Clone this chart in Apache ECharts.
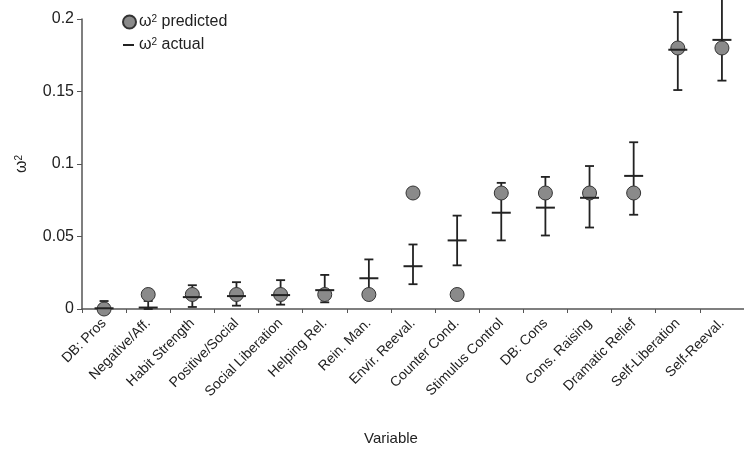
<!DOCTYPE html>
<html>
<head>
<meta charset="utf-8">
<script src="https://cdn.jsdelivr.net/npm/echarts@6/dist/echarts.min.js"></script>
<style>
  html, body { margin: 0; padding: 0; background: #fff; }
  #omegaChart { width: 744px; height: 451px; }
</style>
</head>
<body>
<div id="omegaChart"></div>
<script>
// categories (x axis)
var categories = ['DB: Pros', 'Negative/Aff.', 'Habit Strength', 'Positive/Social', 'Social Liberation',
  'Helping Rel.', 'Rein. Man.', 'Envir. Reeval.', 'Counter Cond.', 'Stimulus Control',
  'DB: Cons', 'Cons. Raising', 'Dramatic Relief', 'Self-Liberation', 'Self-Reeval.'];
// predicted omega^2 (circles)
var predicted = [0, 0.01, 0.01, 0.01, 0.01, 0.01, 0.01, 0.08, 0.01, 0.08, 0.08, 0.08, 0.08, 0.18, 0.18];
// actual omega^2 (dash) and interval ends
var actual = [0.0005, 0.001, 0.0082, 0.0089, 0.0096, 0.013, 0.0212, 0.0295, 0.0473, 0.0664, 0.0699, 0.0767, 0.0918, 0.1788, 0.1856];
var lower = [0, 0, 0.0014, 0.0023, 0.003, 0.0046, 0.008, 0.0171, 0.0301, 0.0473, 0.0507, 0.0562, 0.065, 0.151, 0.1575];
var upper = [0.0055, 0.0055, 0.0164, 0.0185, 0.0199, 0.0235, 0.0342, 0.0445, 0.0644, 0.087, 0.0911, 0.0986, 0.115, 0.2048, 0.214];
// y tick values
var yTicks = [0, 0.05, 0.1, 0.15, 0.2];

var FONT = "'Liberation Sans', Arial, sans-serif";
var INK = '#222';

// rich text for the omega with superscript
var omegaRich = {
  w: { fontSize: 16, fontFamily: FONT, color: INK },
  s: { fontSize: 10, fontFamily: FONT, color: INK, verticalAlign: 'top', padding: [0, 0, 6, 0] }
};

var whiskerData = categories.map(function (c, i) { return [i, lower[i], upper[i]]; });
var meanData = categories.map(function (c, i) { return [i, actual[i]]; });

var chartDom = document.getElementById('omegaChart');
var myChart = echarts.init(chartDom);
var option = {
  animation: false,
  textStyle: { fontFamily: FONT },
  grid: { left: 82, top: 19, width: 670, bottom: 140 },
  legend: [
    {
      data: ['predicted'],
      left: 117, top: 9,
      icon: 'circle', itemWidth: 13, itemHeight: 13, itemGap: 6,
      formatter: function () { return '{w|ω}{s|2}{w| predicted}'; },
      textStyle: { rich: omegaRich, padding: [0, 0, 0, -2] }
    },
    {
      data: ['actual'],
      left: 118, top: 32,
      icon: 'rect', itemWidth: 11, itemHeight: 2,
      formatter: function () { return '{w|ω}{s|2}{w| actual}'; },
      textStyle: { rich: omegaRich }
    }
  ],
  xAxis: {
    type: 'category',
    data: categories,
    name: 'Variable',
    nameLocation: 'middle',
    nameGap: 122,
    nameTextStyle: { fontSize: 15, color: INK, padding: [0, 44, 0, 0] },
    axisLine: { lineStyle: { color: '#555', width: 1.5 } },
    axisTick: { show: true, length: 4, lineStyle: { color: '#555' } },
    axisLabel: { interval: 0, rotate: 45, fontSize: 14, color: INK, margin: 12 }
  },
  yAxis: {
    type: 'value',
    min: 0, max: 0.2, interval: 0.05,
    name: '{w|ω}{s|2}',
    nameLocation: 'middle',
    nameGap: 52,
    nameRotate: 90,
    nameTextStyle: { rich: omegaRich },
    splitLine: { show: false },
    axisLine: { show: true, lineStyle: { color: '#555', width: 1.5 } },
    axisTick: { show: true, length: 5, lineStyle: { color: '#555' } },
    axisLabel: {
      fontSize: 16, color: INK, margin: 8,
      formatter: function (v) {
        for (var k = 0; k < yTicks.length; k++) {
          if (Math.abs(yTicks[k] - v) < 1e-9) return String(yTicks[k]);
        }
        return '';
      }
    }
  },
  series: [
    {
      // interval whiskers (under the circles)
      name: 'interval',
      type: 'custom',
      z: 1,
      clip: false,
      data: whiskerData,
      renderItem: function (params, api) {
        var x = api.coord([api.value(0), 0])[0];
        var lo = api.coord([api.value(0), api.value(1)])[1];
        var hi = api.coord([api.value(0), api.value(2)])[1];
        var cap = 4.5;
        var st = { stroke: INK, lineWidth: 1.8 };
        return {
          type: 'group',
          children: [
            { type: 'line', shape: { x1: x, y1: lo, x2: x, y2: hi }, style: st },
            { type: 'line', shape: { x1: x - cap, y1: hi, x2: x + cap, y2: hi }, style: st },
            { type: 'line', shape: { x1: x - cap, y1: lo, x2: x + cap, y2: lo }, style: st }
          ]
        };
      }
    },
    {
      name: 'predicted',
      type: 'scatter',
      z: 2,
      symbol: 'circle',
      symbolSize: 14,
      data: predicted,
      itemStyle: { color: '#8a8a8a', borderColor: '#333', borderWidth: 1, opacity: 1 }
    },
    {
      // actual value dash (on top)
      name: 'actual',
      type: 'custom',
      z: 3,
      clip: false,
      data: meanData,
      itemStyle: { color: INK },
      renderItem: function (params, api) {
        var p = api.coord([api.value(0), api.value(1)]);
        var half = 9.5;
        return {
          type: 'line',
          shape: { x1: p[0] - half, y1: p[1], x2: p[0] + half, y2: p[1] },
          style: { stroke: INK, lineWidth: 2 }
        };
      }
    }
  ]
};
option && myChart.setOption(option);
</script>
</body>
</html>
